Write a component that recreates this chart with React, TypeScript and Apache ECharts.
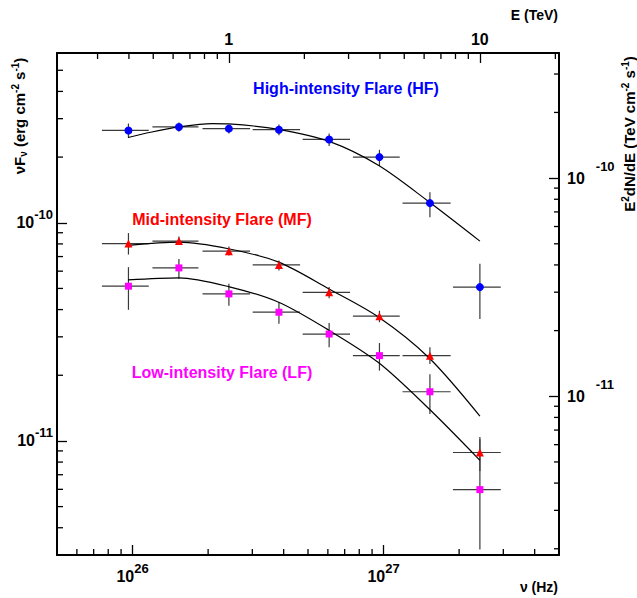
import React, { useEffect, useRef } from 'react';
import * as echarts from 'echarts';

// unit conversions for the secondary axes
const HZ_PER_TEV = 2.418e26;
const ERG_PER_TEV = 1.602;

// axis ranges (Hz, erg cm^-2 s^-1)
const X_MIN = 5e25;
const X_MAX = 5e27;
const Y_MIN = 3e-12;
const Y_MAX = 6e-10;

// energy bins (Hz)
const nuHz = [9.63e25, 1.53e26, 2.42e26, 3.83e26, 6.07e26, 9.63e26, 1.53e27, 2.42e27];
const nuLow = [7.55e25, 1.2e26, 1.9e26, 3.01e26, 4.76e26, 7.55e26, 1.19e27, 1.89e27];
const nuHigh = [1.16e26, 1.83e26, 2.94e26, 4.65e26, 7.35e26, 1.16e27, 1.85e27, 2.93e27];

// High-intensity flare
const hfFlux = [2.65e-10, 2.75e-10, 2.7e-10, 2.67e-10, 2.41e-10, 2.0e-10, 1.23e-10, 5.07e-11];
const hfLow = [2.45e-10, 2.61e-10, 2.565e-10, 2.52e-10, 2.25e-10, 1.82e-10, 1.06e-10, 3.62e-11];
const hfHigh = [2.85e-10, 2.88e-10, 2.8e-10, 2.82e-10, 2.565e-10, 2.16e-10, 1.38e-10, 6.48e-11];

// Mid-intensity flare
const mfFlux = [8.03e-11, 8.24e-11, 7.41e-11, 6.41e-11, 4.8e-11, 3.73e-11, 2.46e-11, 8.85e-12];
const mfLow = [7.15e-11, 7.95e-11, 7.08e-11, 6.04e-11, 4.51e-11, 3.5e-11, 2.25e-11, 7.28e-12];
const mfHigh = [8.97e-11, 8.65e-11, 7.78e-11, 6.71e-11, 5.07e-11, 3.95e-11, 2.69e-11, 1.043e-11];

// Low-intensity flare
const lfFlux = [5.12e-11, 6.21e-11, 4.72e-11, 3.89e-11, 3.09e-11, 2.46e-11, 1.68e-11, 5.98e-12];
const lfLow = [3.99e-11, 5.53e-11, 4.17e-11, 3.44e-11, 2.69e-11, 2.1e-11, 1.33e-11, 3.18e-12];
const lfHigh = [6.26e-11, 6.83e-11, 5.25e-11, 4.32e-11, 3.47e-11, 2.81e-11, 2.02e-11, 1.018e-11];

// fitted curves
const hfFitNu = [9.6e25, 1.18e26, 1.53e26, 2.07e26, 2.41e26, 3.82e26, 6.07e26, 9.57e26, 1.52e27, 2.42e27];
const hfFit = [2.46e-10, 2.6e-10, 2.75e-10, 2.85e-10, 2.84e-10, 2.68e-10, 2.36e-10, 1.83e-10, 1.245e-10, 8.24e-11];
const mfFitNu = [9.6e25, 1.53e26, 2.41e26, 3.82e26, 6.07e26, 9.57e26, 1.52e27, 2.42e27];
const mfFit = [7.87e-11, 8.15e-11, 7.6e-11, 6.6e-11, 4.97e-11, 3.69e-11, 2.4e-11, 1.3e-11];
const lfFitNu = [9.6e25, 1.53e26, 2.41e26, 3.82e26, 6.07e26, 9.57e26, 1.52e27, 2.42e27];
const lfFit = [5.47e-11, 5.59e-11, 5.1e-11, 4.32e-11, 3.21e-11, 2.28e-11, 1.4e-11, 8.15e-12];

const FONT = "'Liberation Sans', Arial, Helvetica, sans-serif";

function minorValues(lo: number, hi: number): number[] {
  const out: number[] = [];
  for (let e = Math.floor(Math.log10(lo)) - 1; e <= Math.ceil(Math.log10(hi)); e++) {
    for (let m = 2; m <= 9; m++) {
      const v = m * Math.pow(10, e);
      if (v > lo * 1.0001 && v < hi * 0.9999) out.push(v);
    }
  }
  return out;
}

const bottomMinor = minorValues(X_MIN, X_MAX);
const topMinor = minorValues(X_MIN / HZ_PER_TEV, X_MAX / HZ_PER_TEV);
const leftMinor = minorValues(Y_MIN, Y_MAX);
const rightMinor = minorValues(Y_MIN / ERG_PER_TEV, Y_MAX / ERG_PER_TEV);

function errRows(flux: number[], lo: number[], hi: number[]) {
  return nuHz.map((n, i) => [n, flux[i], nuLow[i], nuHigh[i], lo[i], hi[i]]);
}

const exponent = (v: number) => Math.round(Math.log10(v));

export default function App() {
  const ref = useRef<HTMLDivElement>(null);
  useEffect(() => {
    if (!ref.current) return;
    const chart = echarts.init(ref.current, null, { renderer: 'svg' });

    const errSeries = (rows: number[][]) => ({
      type: 'custom',
      xAxisIndex: 0,
      yAxisIndex: 0,
      silent: true,
      clip: false,
      z: 3,
      encode: { x: 0, y: 1 },
      data: rows,
      renderItem: (_p: any, api: any) => {
        const y = api.value(1);
        const x = api.value(0);
        const a = api.coord([api.value(2), y]);
        const b = api.coord([api.value(3), y]);
        const c = api.coord([x, api.value(4)]);
        const d = api.coord([x, api.value(5)]);
        return {
          type: 'group',
          children: [
            { type: 'line', shape: { x1: a[0], y1: a[1], x2: b[0], y2: b[1] }, style: { stroke: '#3a3a3a', lineWidth: 1.2 } },
            { type: 'line', shape: { x1: c[0], y1: c[1], x2: d[0], y2: d[1] }, style: { stroke: '#3a3a3a', lineWidth: 1.2 } },
          ],
        };
      },
    });

    const tickSeries = (xi: number, yi: number, rows: number[][], dx: number, dy: number) => ({
      type: 'custom',
      xAxisIndex: xi,
      yAxisIndex: yi,
      silent: true,
      clip: false,
      z: 6,
      encode: { x: 0, y: 1 },
      data: rows,
      renderItem: (_p: any, api: any) => {
        const p = api.coord([api.value(0), api.value(1)]);
        return {
          type: 'line',
          shape: { x1: p[0], y1: p[1], x2: p[0] + dx, y2: p[1] + dy },
          style: { stroke: '#000', lineWidth: 1.3 },
        };
      },
    });

    const fitSeries = (xs: number[], ys: number[]) => ({
      type: 'line',
      xAxisIndex: 0,
      yAxisIndex: 0,
      data: xs.map((x, i) => [x, ys[i]]),
      smooth: 0.3,
      showSymbol: false,
      symbol: 'none',
      silent: true,
      z: 4,
      lineStyle: { color: '#000', width: 1.2 },
    });

    const scatter = (flux: number[], symbol: string, size: number, color: string) => ({
      type: 'scatter',
      xAxisIndex: 0,
      yAxisIndex: 0,
      data: nuHz.map((n, i) => [n, flux[i]]),
      symbol,
      symbolSize: size,
      itemStyle: { color, opacity: 1 },
      silent: true,
      z: 10,
    });

    const baseLabel = { fontFamily: FONT, fontWeight: 'bold', fontSize: 16, color: '#000' };
    const supStyle = { fontFamily: FONT, fontWeight: 'bold', fontSize: 13, color: '#000' };
    const axisLineStyle = { show: true, onZero: false, lineStyle: { color: '#000', width: 2 } };
    const majorTick = { show: true, inside: true, length: 10, lineStyle: { color: '#000', width: 1.3 } };

    chart.setOption({
      animation: false,
      backgroundColor: '#fff',
      grid: { left: 57, right: 78, top: 53, bottom: 43, containLabel: false, outerBoundsMode: 'none' },
      xAxis: [
        {
          type: 'log',
          logBase: 10,
          position: 'bottom',
          min: X_MIN,
          max: X_MAX,
          axisLine: axisLineStyle,
          axisTick: majorTick,
          minorTick: { show: false },
          splitLine: { show: false },
          axisLabel: {
            show: true,
            showMinLabel: false,
            showMaxLabel: false,
            margin: 12,
            interval: 0,
            formatter: (v: number) => `{b|10}{s|${exponent(v)}}`,
            rich: {
              b: { ...baseLabel, lineHeight: 18 },
              s: { ...supStyle, lineHeight: 14, padding: [0, 0, 16, 0] },
            },
          },
        },
        {
          type: 'log',
          logBase: 10,
          position: 'top',
          min: X_MIN / HZ_PER_TEV,
          max: X_MAX / HZ_PER_TEV,
          axisLine: axisLineStyle,
          axisTick: majorTick,
          minorTick: { show: false },
          splitLine: { show: false },
          axisLabel: {
            show: true,
            showMinLabel: false,
            showMaxLabel: false,
            margin: 6,
            interval: 0,
            formatter: (v: number) => String(Math.round(v)),
            ...baseLabel,
          },
        },
      ],
      yAxis: [
        {
          type: 'log',
          logBase: 10,
          position: 'left',
          min: Y_MIN,
          max: Y_MAX,
          axisLine: axisLineStyle,
          axisTick: majorTick,
          minorTick: { show: false },
          splitLine: { show: false },
          axisLabel: {
            show: true,
            showMinLabel: false,
            showMaxLabel: false,
            margin: 4,
            interval: 0,
            formatter: (v: number) => `{b|10}{s|${exponent(v)}}`,
            rich: {
              b: { ...baseLabel, lineHeight: 18 },
              s: { ...supStyle, lineHeight: 14, padding: [0, 0, 17, 0] },
            },
          },
        },
        {
          type: 'log',
          logBase: 10,
          position: 'right',
          min: Y_MIN / ERG_PER_TEV,
          max: Y_MAX / ERG_PER_TEV,
          axisLine: axisLineStyle,
          axisTick: majorTick,
          minorTick: { show: false },
          splitLine: { show: false },
          axisLabel: {
            show: true,
            showMinLabel: false,
            showMaxLabel: false,
            margin: 8,
            interval: 0,
            formatter: (v: number) => `{b|10}{s|${exponent(v)}}`,
            rich: {
              b: { ...baseLabel, lineHeight: 18 },
              s: { ...supStyle, lineHeight: 14, padding: [0, 0, 24, 11] },
            },
          },
        },
      ],
      series: [
        tickSeries(0, 0, bottomMinor.map((v) => [v, Y_MIN]), 0, -6),
        tickSeries(1, 0, topMinor.map((v) => [v, Y_MAX]), 0, 6),
        tickSeries(0, 0, leftMinor.map((v) => [X_MIN, v]), 6, 0),
        tickSeries(0, 1, rightMinor.map((v) => [X_MAX, v]), -5, 0),
        fitSeries(hfFitNu, hfFit),
        fitSeries(mfFitNu, mfFit),
        fitSeries(lfFitNu, lfFit),
        errSeries(errRows(hfFlux, hfLow, hfHigh)),
        errSeries(errRows(mfFlux, mfLow, mfHigh)),
        errSeries(errRows(lfFlux, lfLow, lfHigh)),
        scatter(hfFlux, 'circle', 8, '#0000ff'),
        scatter(mfFlux, 'triangle', 8, '#ff0000'),
        scatter(lfFlux, 'rect', 7, '#ff00ff'),
      ],
      graphic: [
        {
          type: 'text', x: 346, y: 88,
          style: { text: 'High-intensity Flare (HF)', fill: '#0000ff', fontFamily: FONT, fontWeight: 'bold', fontSize: 16, align: 'center', verticalAlign: 'middle', textAlign: 'center', textVerticalAlign: 'middle' },
        },
        {
          type: 'text', x: 222, y: 219,
          style: { text: 'Mid-intensity Flare (MF)', fill: '#ff0000', fontFamily: FONT, fontWeight: 'bold', fontSize: 16, align: 'center', verticalAlign: 'middle', textAlign: 'center', textVerticalAlign: 'middle' },
        },
        {
          type: 'text', x: 222, y: 372,
          style: { text: 'Low-intensity Flare (LF)', fill: '#ff00ff', fontFamily: FONT, fontWeight: 'bold', fontSize: 16, align: 'center', verticalAlign: 'middle', textAlign: 'center', textVerticalAlign: 'middle' },
        },
        {
          type: 'text', x: 558, y: 15,
          style: { text: 'E (TeV)', fill: '#000', fontFamily: FONT, fontWeight: 'bold', fontSize: 14, align: 'right', verticalAlign: 'middle', textAlign: 'right', textVerticalAlign: 'middle' },
        },
        {
          type: 'text', x: 558, y: 587,
          style: { text: 'ν (Hz)', fill: '#000', fontFamily: FONT, fontWeight: 'bold', fontSize: 14, align: 'right', verticalAlign: 'middle', textAlign: 'right', textVerticalAlign: 'middle' },
        },
        {
          type: 'text', x: 19, y: 116, rotation: Math.PI / 2,
          style: {
            text: '{a|νF}{sub|ν}{a| (erg cm}{sup|-2}{a| s}{sup|-1}{a|)}',
            align: 'center', verticalAlign: 'middle', textAlign: 'center', textVerticalAlign: 'middle',
            rich: {
              a: { fontFamily: FONT, fontWeight: 'bold', fontSize: 15, fill: '#000', color: '#000' },
              sub: { fontFamily: FONT, fontWeight: 'bold', fontSize: 10, fill: '#000', color: '#000', padding: [8, 0, 0, 0] },
              sup: { fontFamily: FONT, fontWeight: 'bold', fontSize: 10, fill: '#000', color: '#000', padding: [0, 0, 8, 0] },
            },
          },
        },
        {
          type: 'text', x: 629, y: 134, rotation: Math.PI / 2,
          style: {
            text: '{a|E}{sup|2}{a|dN/dE (TeV cm}{sup|-2}{a| s}{sup|-1}{a|)}',
            align: 'center', verticalAlign: 'middle', textAlign: 'center', textVerticalAlign: 'middle',
            rich: {
              a: { fontFamily: FONT, fontWeight: 'bold', fontSize: 15, fill: '#000', color: '#000' },
              sup: { fontFamily: FONT, fontWeight: 'bold', fontSize: 10, fill: '#000', color: '#000', padding: [0, 0, 8, 0] },
            },
          },
        },
      ],
    });
    return () => chart.dispose();
  }, []);
  return <div ref={ref} style={{ position: 'absolute', left: 0, top: 0, width: 637, height: 598 }} />;
}
